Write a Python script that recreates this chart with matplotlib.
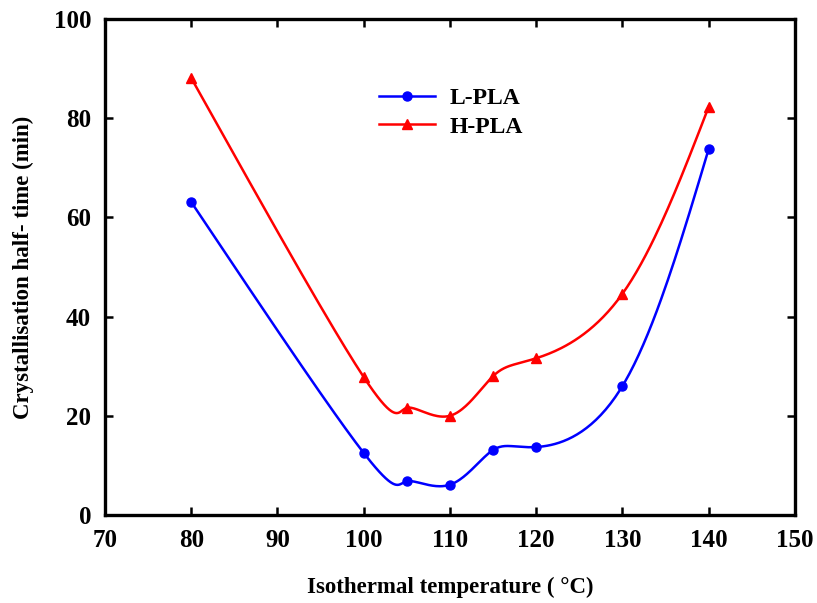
""" Crystallisation half-time against isothermal temperature for L-PLA and H-PLA.
"""
import numpy as np
import matplotlib
matplotlib.use("Agg")
import matplotlib.pyplot as plt

temps = [80, 100, 105, 110, 115, 120, 130, 140]
l_pla = [63.1, 12.5, 6.8, 6.1, 13.1, 13.7, 26.0, 73.8]
h_pla = [88.1, 27.8, 21.6, 20.0, 28.0, 31.6, 44.6, 82.3]

x_ticks = [70, 80, 90, 100, 110, 120, 130, 140, 150]
y_ticks = [0, 20, 40, 60, 80, 100]


def smooth_curve(ax, x, y, steps=40):
    """ Parametric natural cubic spline through the points, built in
    screen space with a uniform parameter and mapped back to data units. """
    pts = ax.transData.transform(np.column_stack([x, y]))
    n = len(pts)
    a = np.zeros((n, n))
    b = np.zeros((n, 2))
    a[0, 0] = a[-1, -1] = 1.0
    for i in range(1, n - 1):
        a[i, i - 1:i + 2] = [1.0, 4.0, 1.0]
        b[i] = 6 * (pts[i + 1] - 2 * pts[i] + pts[i - 1])
    m = np.linalg.solve(a, b)
    t = np.linspace(0, 1, steps)[:, None]
    out = []
    for i in range(n - 1):
        s = 1 - t
        seg = (m[i] * s ** 3 + m[i + 1] * t ** 3) / 6 \
            + (pts[i] - m[i] / 6) * s + (pts[i + 1] - m[i + 1] / 6) * t
        out.append(seg)
    curve = ax.transData.inverted().transform(np.vstack(out))
    return curve[:, 0], curve[:, 1]


plt.rcParams["font.family"] = ["Liberation Serif", "DejaVu Serif"]
plt.rcParams["font.weight"] = "bold"

fig = plt.figure(figsize=(8.17, 6.03), dpi=100)
ax = fig.add_axes([0.1285, 0.146, 0.8445, 0.8225])
ax.set_xlim(70, 150)
ax.set_ylim(0, 100)

for vals, color, marker, ms, name in [
    (l_pla, "blue", "o", 6.5, "L-PLA"),
    (h_pla, "red", "^", 7, "H-PLA"),
]:
    xs, ys = smooth_curve(ax, temps, vals)
    ax.plot(xs, ys, color=color, lw=1.8)
    ax.plot(temps, vals, linestyle="none", marker=marker, color=color, ms=ms)
    ax.plot([], [], color=color, lw=1.8, marker=marker, ms=ms, label=name)

ax.set_xticks(x_ticks)
ax.set_yticks(y_ticks)
ax.tick_params(direction="in", length=6, width=1.8, labelsize=18,
               top=True, right=True, pad=10)
for spine in ax.spines.values():
    spine.set_linewidth(2.4)

ax.set_xlabel("Isothermal temperature ( °C)", fontsize=16.5, fontweight="bold", labelpad=18)
ax.set_ylabel("Crystallisation half- time (min)", fontsize=16.5, fontweight="bold", labelpad=14)

ax.legend(loc="upper left", bbox_to_anchor=(0.366, 0.905), frameon=False,
          fontsize=17, handlelength=2.4, handletextpad=0.6, labelspacing=0.3)

fig.savefig("out.png", dpi=100)
